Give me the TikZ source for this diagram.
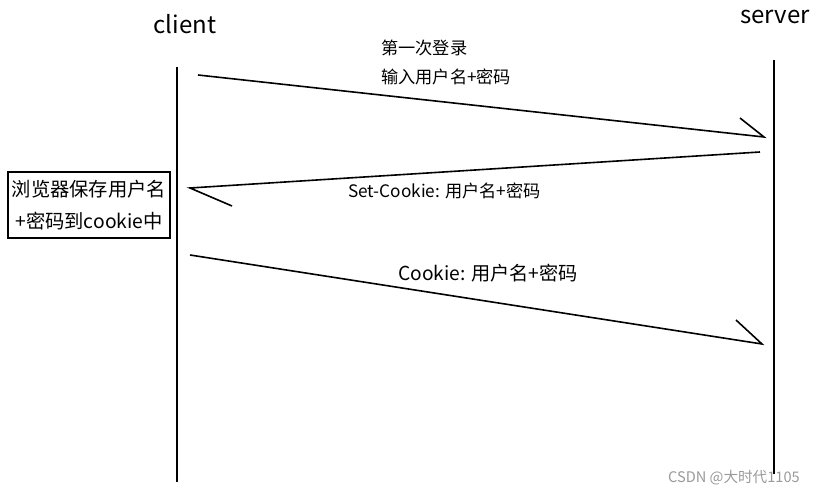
\documentclass[tikz,border=0pt]{standalone}
\usepackage{fontspec}
\setmainfont{Noto Sans CJK SC}
\begin{document}
\begin{tikzpicture}[x=1pt,y=-1pt,
  life/.style={line width=1.8pt},
  msg/.style={line width=1.6pt},
  lbl/.style={anchor=west,inner sep=0pt,font=\fontsize{17.2}{19}\selectfont},
  big/.style={anchor=west,inner sep=0pt,font=\fontsize{19.2}{21}\selectfont},
  head/.style={inner sep=0pt,font=\fontsize{24}{26}\selectfont}]
\useasboundingbox (0,0) rectangle (820,494);
% headers
\node[head] (client) at (185,24) {client};
\node[head] (server) at (775,17) {server};
% lifelines
\coordinate (ct) at (177,67);
\coordinate (cb) at (177,482);
\coordinate (st) at (774,60);
\coordinate (sb) at (774,474);
\draw[life] (ct) -- (cb);
\draw[life] (st) -- (sb);
% message 1
\coordinate (a1s) at (198,75);
\coordinate (a1e) at (764,137);
\coordinate (a1b) at (740,118);
\draw[msg] (a1s) -- (a1e) -- (a1b);
\node[lbl] (t1) at (381,48) {第一次登录};
\node[lbl] (t2) at (381,77) {输入用户名+密码};
% message 2
\coordinate (a2s) at (760,152);
\coordinate (a2e) at (190,188);
\coordinate (a2b) at (232,206);
\draw[msg] (a2s) -- (a2e) -- (a2b);
\node[lbl] (t3) at (348,191) {Set-Cookie: 用户名+密码};
% message 3
\coordinate (a3s) at (190,255);
\coordinate (a3e) at (762,344);
\coordinate (a3b) at (736,320);
\draw[msg] (a3s) -- (a3e) -- (a3b);
\node[big] (t4) at (398,273) {Cookie: 用户名+密码};
% box
\node[draw,line width=1.6pt,minimum width=162pt,minimum height=66pt,inner sep=0pt,
  align=center,font=\fontsize{19.3}{32}\selectfont] (box) at (89,205)
  {浏览器保存用户名\\+密码到cookie中};
% watermark
\node[anchor=west,inner sep=0pt,text=black!40,font=\fontsize{14.6}{16}\selectfont] (wm) at (668,478) {CSDN @大时代1105};
\end{tikzpicture}
\end{document}
